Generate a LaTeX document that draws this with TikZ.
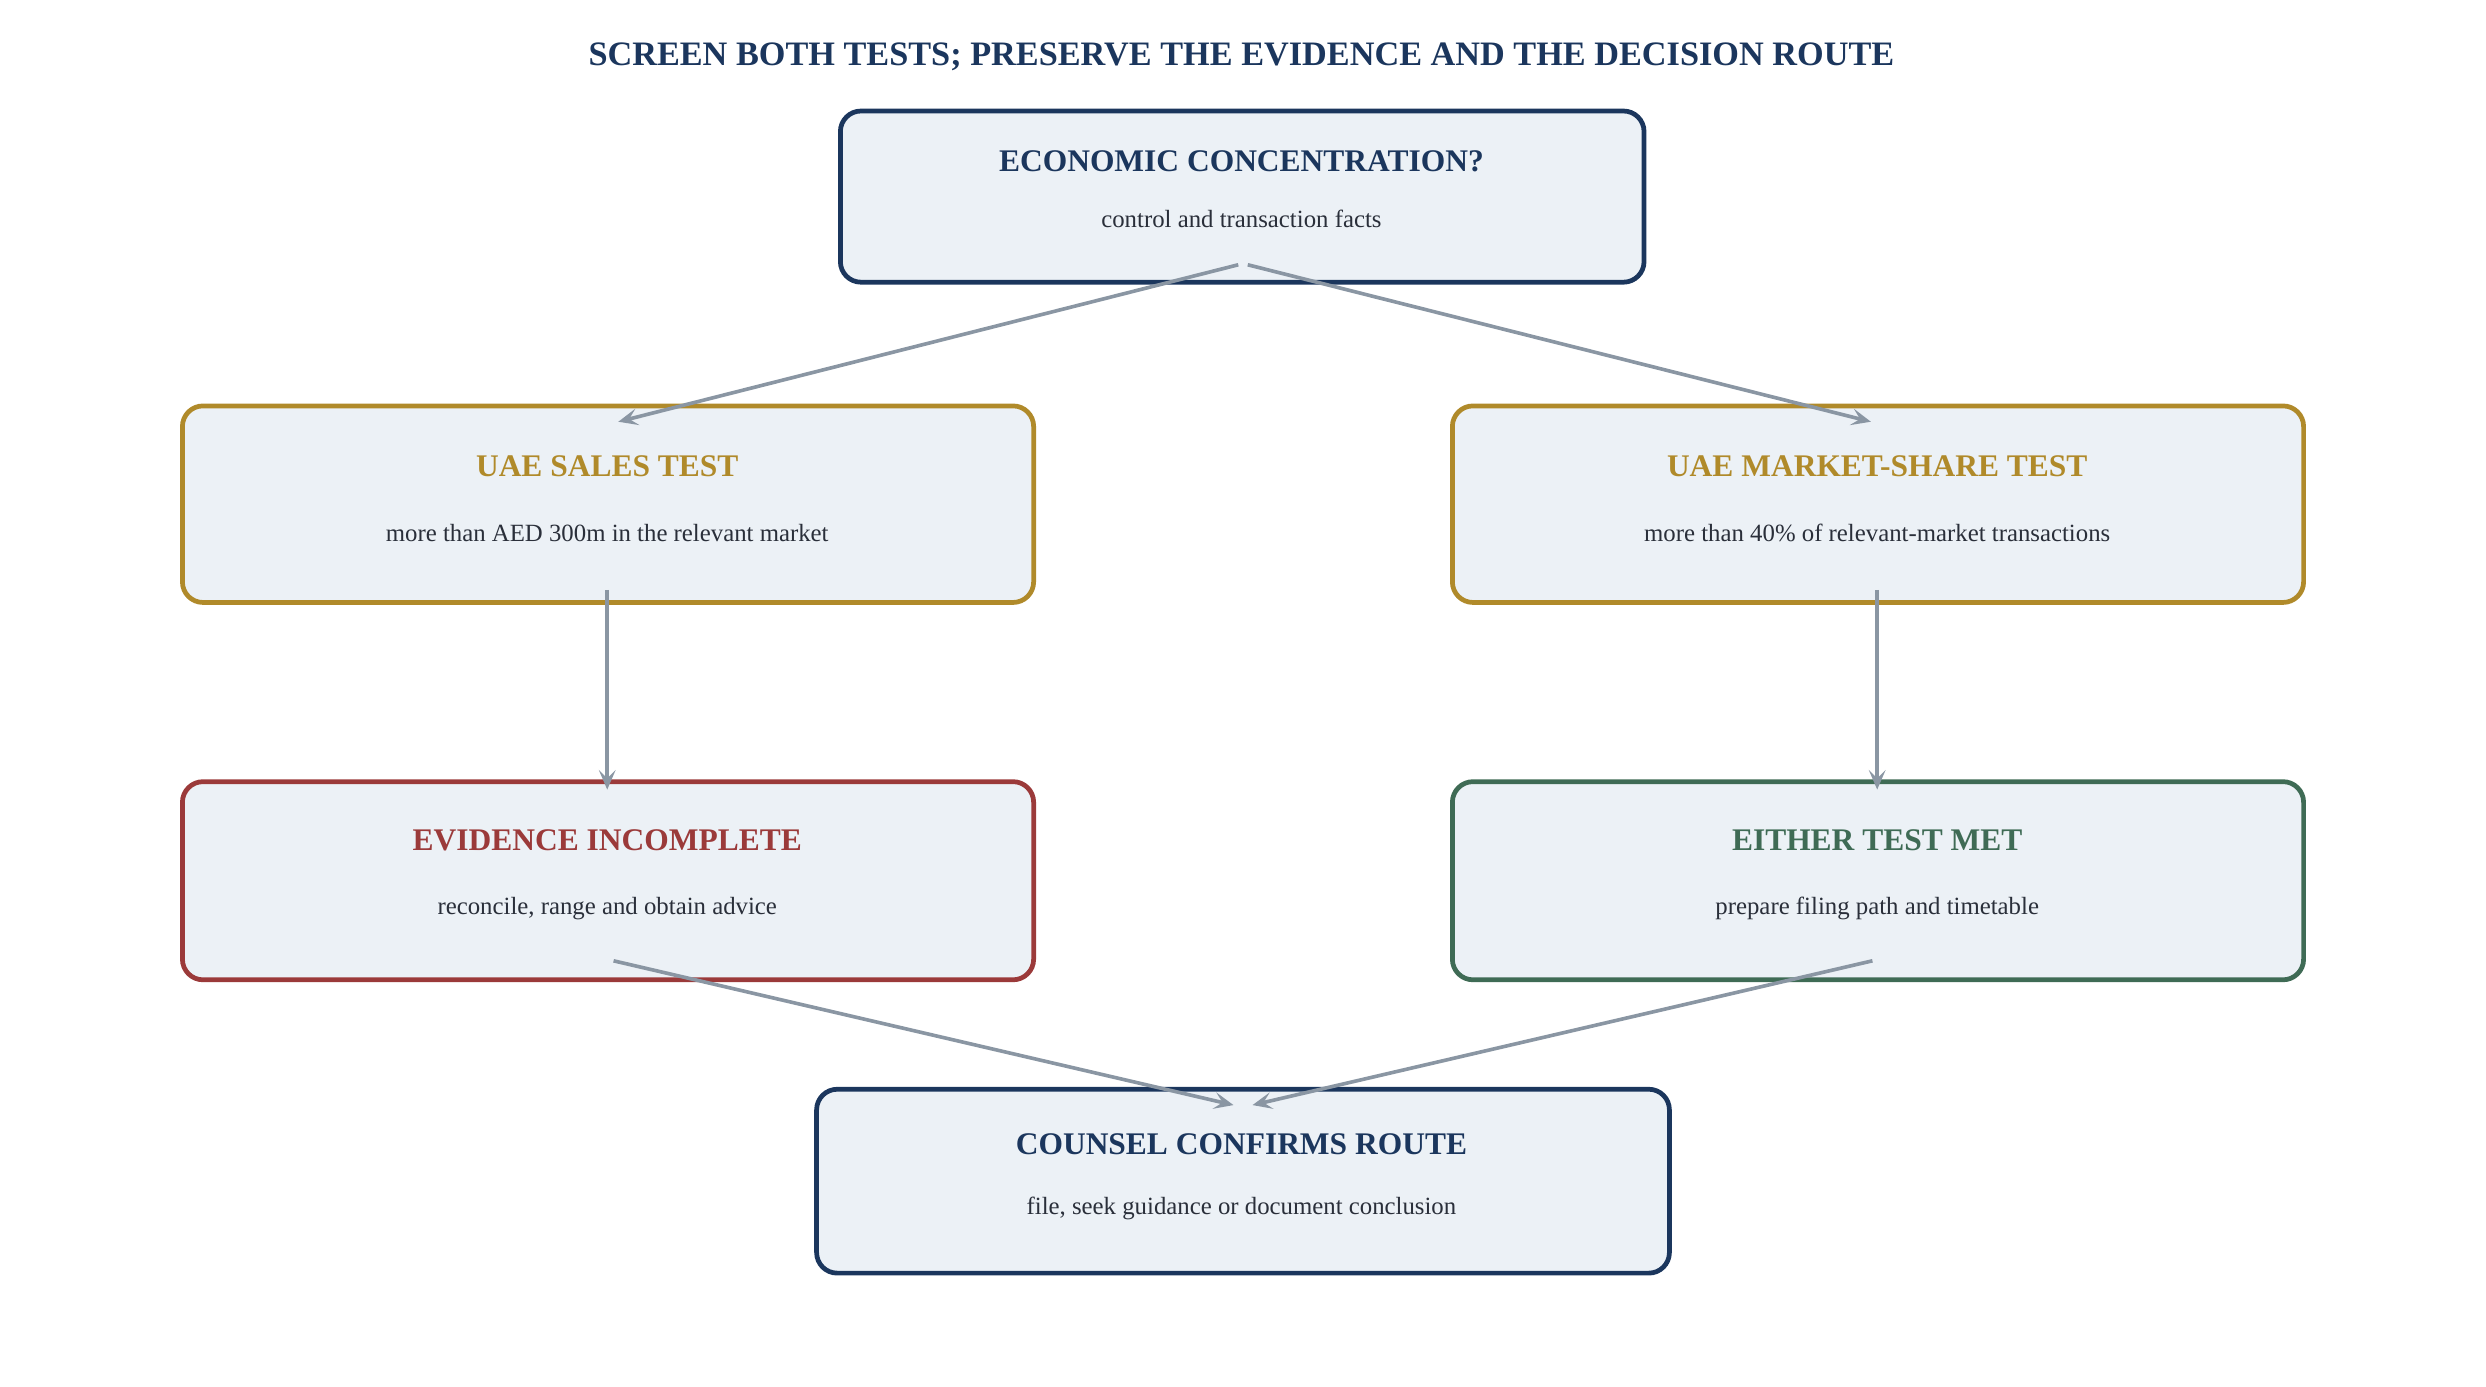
\documentclass[tikz,border=0pt]{standalone}
\usepackage{fontspec}
\setmainfont{Liberation Serif}
\usetikzlibrary{arrows.meta}
\definecolor{navy}{HTML}{1B365D}
\definecolor{gold}{HTML}{B08A2A}
\definecolor{wine}{HTML}{9B3A3A}
\definecolor{pine}{HTML}{3F6B55}
\definecolor{boxfill}{HTML}{ECF1F6}
\definecolor{arr}{HTML}{8A96A3}
\definecolor{txt}{HTML}{2A2F3A}
\begin{document}
\begin{tikzpicture}[x=0.02cm,y=-0.02cm,
  box/.style={draw=#1,fill=boxfill,line width=1.7pt,rounded corners=0.26cm,inner sep=0pt},
  ttl/.style={text=#1,font=\fontsize{11.3}{13}\selectfont\bfseries},
  sub/.style={text=txt,font=\fontsize{8.9}{11}\selectfont},
  link/.style={draw=arr,line width=1.3pt,-{Stealth[length=7pt,width=6pt,inset=3pt]}}]
\useasboundingbox (0,0) rectangle (1568,874.2);
\node[text=navy,font=\fontsize{12.3}{15}\selectfont\bfseries] (title) at (783,36) {SCREEN BOTH TESTS; PRESERVE THE EVIDENCE AND THE DECISION ROUTE};
% boxes
\node[box=navy,minimum width=10.14cm,minimum height=2.16cm] (top) at (783.5,124) {};
\node[box=gold,minimum width=10.74cm,minimum height=2.48cm] (sales) at (383.5,318) {};
\node[box=gold,minimum width=10.74cm,minimum height=2.48cm] (mkt) at (1184.5,318) {};
\node[box=wine,minimum width=10.74cm,minimum height=2.5cm] (evid) at (383.5,555.5) {};
\node[box=pine,minimum width=10.74cm,minimum height=2.5cm] (either) at (1184.5,555.5) {};
\node[box=navy,minimum width=10.76cm,minimum height=2.32cm] (counsel) at (784,745) {};
% texts
\node[ttl=navy] (topT) at (783,102) {ECONOMIC CONCENTRATION?};
\node[sub] (topS) at (783,138) {control and transaction facts};
\node[ttl=gold] (salesT) at (383,294) {UAE SALES TEST};
\node[sub] (salesS) at (383,336) {more than AED 300m in the relevant market};
\node[ttl=gold] (mktT) at (1184,294) {UAE MARKET-SHARE TEST};
\node[sub] (mktS) at (1184,336) {more than 40\% of relevant-market transactions};
\node[ttl=wine] (evidT) at (383,530) {EVIDENCE INCOMPLETE};
\node[sub] (evidS) at (383,573) {reconcile, range and obtain advice};
\node[ttl=pine] (eitherT) at (1184,530) {EITHER TEST MET};
\node[sub] (eitherS) at (1184,573) {prepare filing path and timetable};
\node[ttl=navy] (counselT) at (783,722) {COUNSEL CONFIRMS ROUTE};
\node[sub] (counselS) at (783,762) {file, seek guidance or document conclusion};
% connector anchors
\coordinate (a1) at (781,167); \coordinate (a2) at (787,167);
\coordinate (b1) at (390,266); \coordinate (b2) at (1180,266);
\coordinate (c1) at (383,372); \coordinate (c2) at (383,498);
\coordinate (d1) at (1184,372); \coordinate (d2) at (1184,498);
\coordinate (e1) at (387,606); \coordinate (e2) at (778,697);
\coordinate (f1) at (1181,606); \coordinate (f2) at (790,697);
\draw[link] (a1) -- (b1);
\draw[link] (a2) -- (b2);
\draw[link] (c1) -- (c2);
\draw[link] (d1) -- (d2);
\draw[link] (e1) -- (e2);
\draw[link] (f1) -- (f2);
\end{tikzpicture}
\end{document}
